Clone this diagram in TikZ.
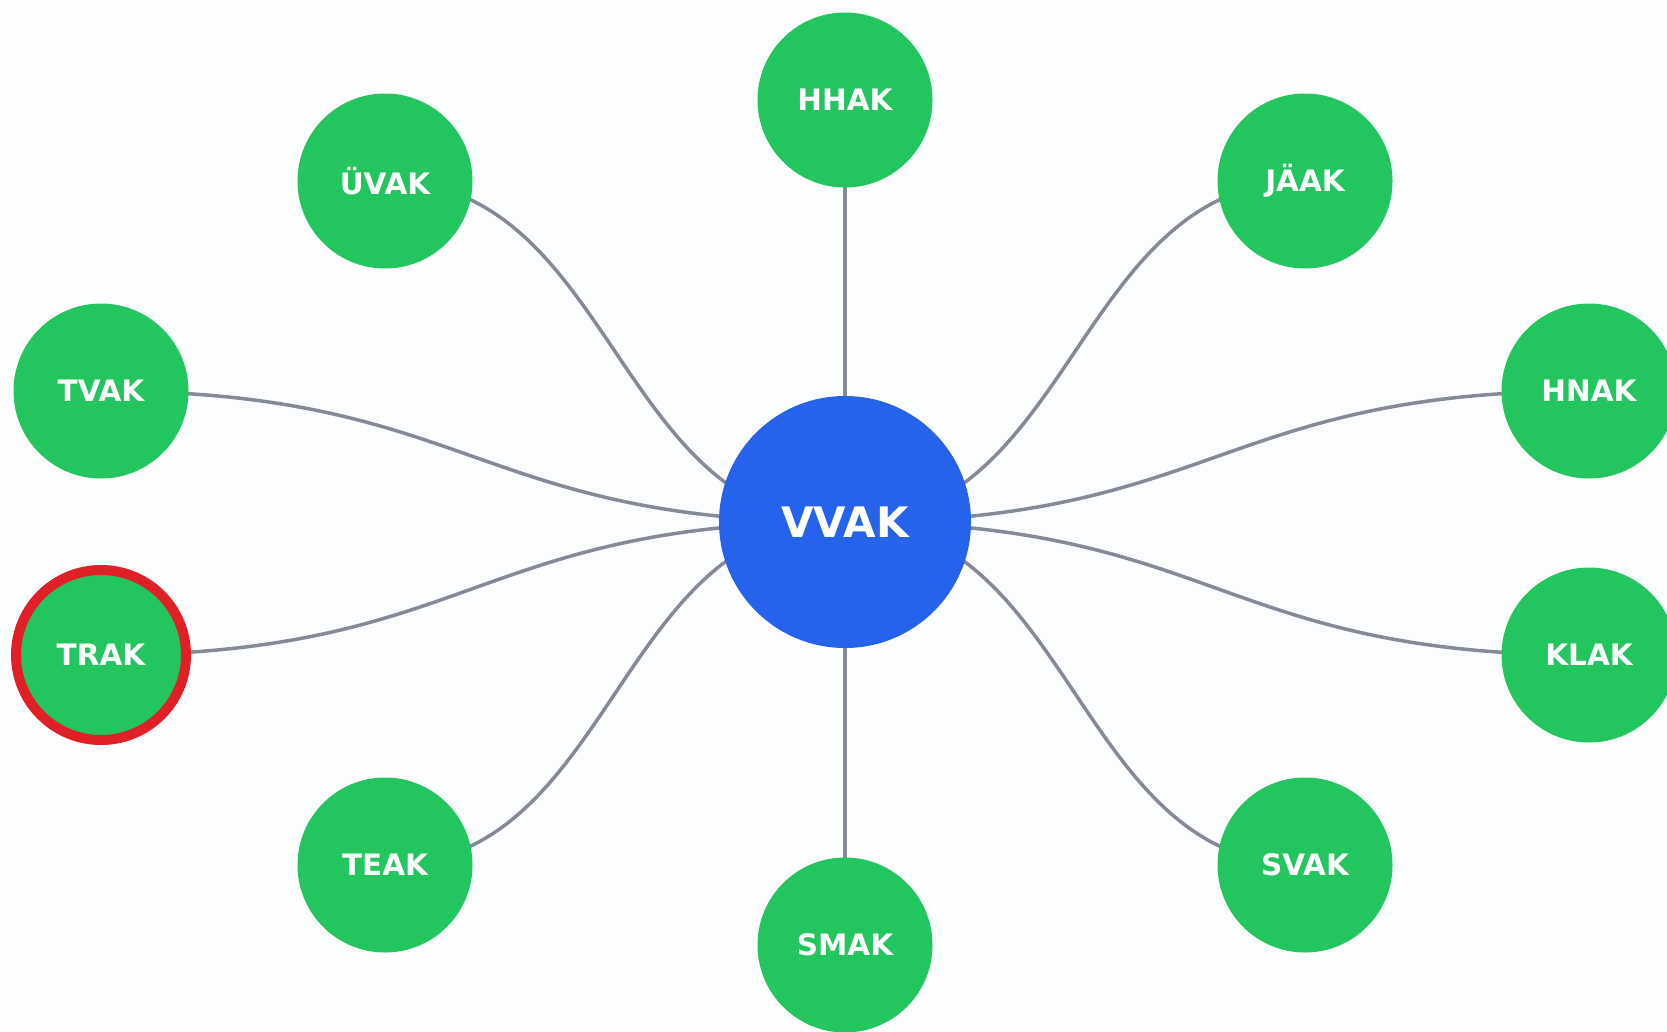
\documentclass[tikz,border=0pt]{standalone}
\usepackage{fontspec}
\setmainfont{DejaVu Sans}
\usetikzlibrary{calc,backgrounds}
\definecolor{leaf}{HTML}{22C55E}
\definecolor{hub}{HTML}{2563EB}
\definecolor{edgegray}{HTML}{858A98}
\definecolor{ring}{HTML}{E01F26}
\definecolor{bg}{HTML}{FCFDFE}
\tikzset{
  leafnode/.style={circle,fill=leaf,minimum size=175pt,inner sep=0pt,text=white,
    font=\fontsize{29.5}{30}\selectfont\bfseries},
  hubnode/.style={circle,fill=hub,minimum size=252pt,inner sep=0pt,text=white,
    font=\fontsize{42}{42}\selectfont\bfseries},
  marked/.style={draw=ring,line width=10pt,minimum size=170pt},
  link/.style={draw=edgegray,line width=3.5pt}
}
\newcommand{\hlink}[2]{%
  \coordinate (m#2) at ($(#1.center)!.5!(#2.center)$);
  \draw[link] (#1.center) .. controls (m#2 |- #1.center) and (m#2 |- #2.center) .. (#2.center);}
\begin{document}
\begin{tikzpicture}[x=1pt,y=-1pt]
\useasboundingbox (0,0) rectangle (1667,1031);
\node[hubnode] (c) at (845,522) {VVAK};
\node[leafnode] (hh) at (845,100) {HHAK};
\node[leafnode] (uv) at (385,181) {ÜVAK};
\node[leafnode] (ja) at (1305,181) {JÄAK};
\node[leafnode] (tv) at (101,391) {TVAK};
\node[leafnode] (hn) at (1589,391) {HNAK};
\node[leafnode,marked] (tr) at (101,655) {TRAK};
\node[leafnode] (kl) at (1589,655) {KLAK};
\node[leafnode] (te) at (385,865) {TEAK};
\node[leafnode] (sv) at (1305,865) {SVAK};
\node[leafnode] (sm) at (845,945) {SMAK};
\begin{scope}[on background layer]
\fill[bg] (0,0) rectangle (1667,1031);
\hlink{c}{hh}
\hlink{c}{uv}
\hlink{c}{ja}
\hlink{c}{tv}
\hlink{c}{hn}
\hlink{c}{tr}
\hlink{c}{kl}
\hlink{c}{te}
\hlink{c}{sv}
\hlink{c}{sm}
\end{scope}
\end{tikzpicture}
\end{document}
